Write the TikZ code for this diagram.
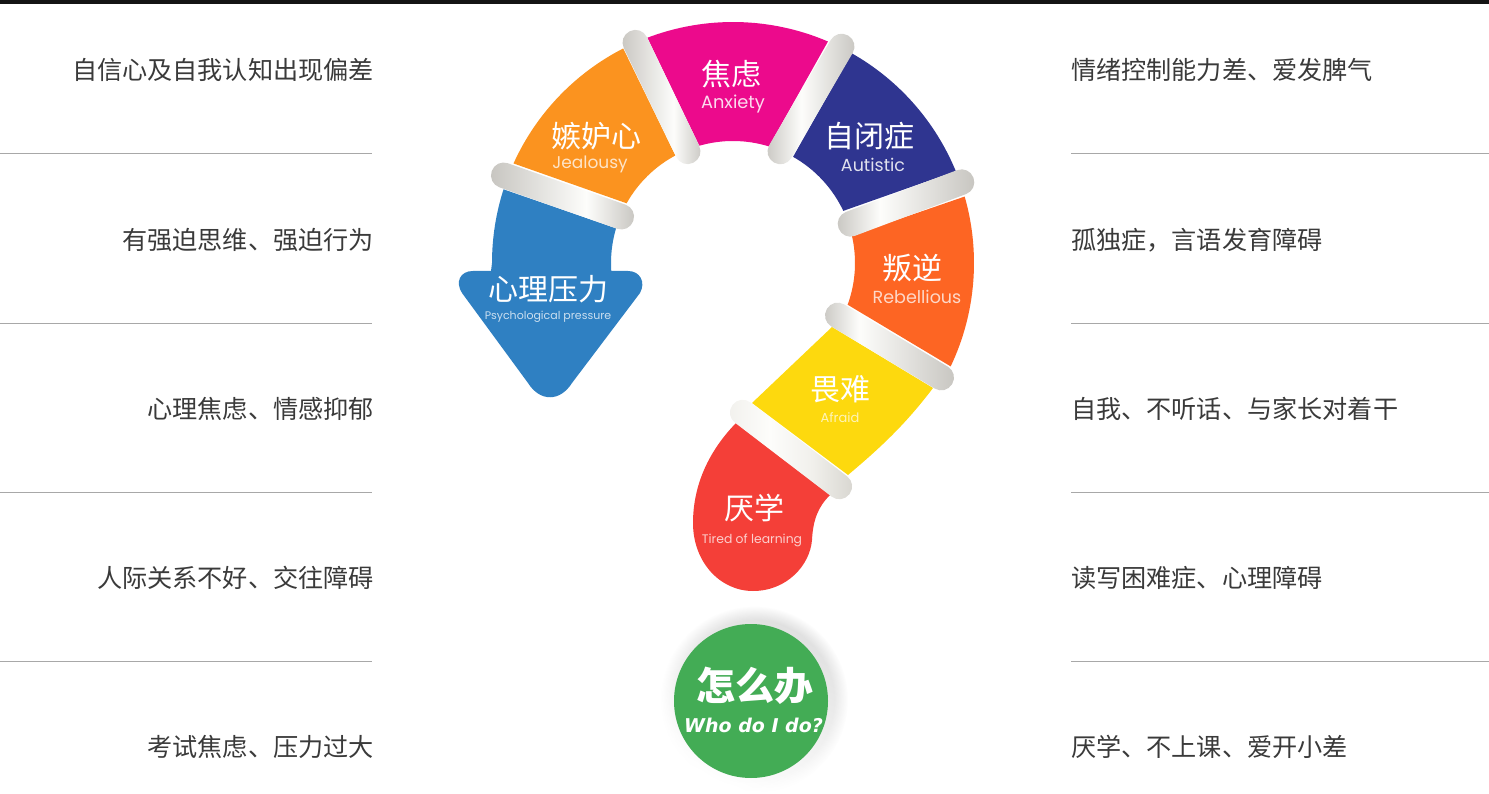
\documentclass[tikz,border=0pt]{standalone}
\usepackage{fontspec}
\setmainfont{Noto Sans CJK SC}
\newfontfamily\latinfont{Poppins}
\newfontfamily\boldlatin{DejaVu Sans}
\usetikzlibrary{calc,fadings}
\definecolor{bgray}{HTML}{C6C4BF}
\definecolor{bwhite}{HTML}{FDFDFB}
\definecolor{cOrange}{HTML}{FB931F}
\definecolor{cMagenta}{HTML}{EC0A8C}
\definecolor{cNavy}{HTML}{2F3590}
\definecolor{cRedOrange}{HTML}{FD6523}
\definecolor{cYellow}{HTML}{FDD90E}
\definecolor{cRed}{HTML}{F43F38}
\definecolor{cBlue}{HTML}{2F80C2}
\definecolor{cGreen}{HTML}{43AC55}
\definecolor{cText}{HTML}{3A3A3A}
\definecolor{cRule}{HTML}{A8A8A8}
\definecolor{bsoft}{HTML}{F1F0EC}
\definecolor{bend}{HTML}{D6D4CE}
\newcommand\bandshade[2]{\pgfdeclarehorizontalshading{#1}{100bp}{color(0bp)=(bgray); color(25bp)=(bgray); color(#2bp)=(bwhite); color(75bp)=(bgray); color(100bp)=(bgray)}}
\bandshade{bandA}{57}
\bandshade{bandB}{58}
\bandshade{bandC}{45}
\bandshade{bandD}{41}
\bandshade{bandE}{39}
\pgfdeclarehorizontalshading{bandF}{100bp}{color(0bp)=(bsoft); color(25bp)=(bsoft); color(42bp)=(bwhite); color(58bp)=(bsoft); color(75bp)=(bend); color(100bp)=(bend)}
\newcommand\segment[5]{\fill[#1] ($(C)+(#2:241pt)$) arc[start angle=#2,end angle=#3,radius=241pt] -- ($(C)+(#5:122pt)$) arc[start angle=#5,end angle=#4,radius=122pt] -- cycle;}
\tikzset{
  x=1pt,y=-1pt,
  band/.style={rectangle,rounded corners=12.5pt,minimum height=25.5pt,inner sep=0pt,shading=#1,shading angle=0},
  sidetext/.style={inner sep=0pt,text=cText,font=\fontsize{25.15pt}{25.15pt}\selectfont},
  cnlabel/.style={inner sep=0pt,text=white,font=\fontsize{30pt}{30pt}\selectfont},
  enlabel/.style={inner sep=0pt,text=white,font=\latinfont\fontsize{#1}{#1}\selectfont},
  rulepen/.style={draw=cRule,line width=1pt}
}
\begin{document}
\begin{tikzpicture}
\useasboundingbox (0,0) rectangle (1489,794);
\fill[black!92] (0,0) rectangle (1489,4);
\coordinate (C) at (733,263);

% separators
\foreach \y in {153.5,323.5,492.5,661}{
  \draw[rulepen] (0,\y) -- (372,\y);
  \draw[rulepen] (1071,\y) -- (1489,\y);
}

% ring segments
\segment{cOrange}{155.6}{117.1}{150.7}{118.2}
\segment{cMagenta}{110.8}{66.8}{106}{72.9}
\segment{cNavy}{60.5}{22.4}{60.5}{25.3}
\segment{cRedOrange}{16}{-25.4}{13.1}{-20}
% yellow
\fill[cYellow] (832,327) -- (933,388) .. controls (905,425) and (880,448) .. (848,475) -- (752,403) -- cycle;
% red
\fill[cRed] (736,423) .. controls (705,455) and (693,490) .. (693,523)
  .. controls (693,562) and (720,591) .. (753,591)
  .. controls (787,591) and (810,565) .. (812,540)
  .. controls (813,520) and (818,507) .. (830,495) -- cycle;
% blue arrow
\fill[cBlue] ($(C)+(162.2:241pt)$) arc[start angle=162.2,end angle=180,radius=241pt]
  -- (491,271) -- (473,271)
  .. controls (460,271) and (455,282) .. (462,293)
  -- (528,383) .. controls (540,402) and (560,402) .. (572,383)
  -- (640,293) .. controls (646,282) and (640,271) .. (628,271)
  -- (611,271) -- ($(C)+(183.7:122pt)$) arc[start angle=183.7,end angle=163.5,radius=122pt] -- cycle;

% bands
\node[band=bandA,minimum width=146pt,rotate=-64.3] (b1) at (661.5,97) {};
\node[band=bandB,minimum width=150pt,rotate=-19.4] (b2) at (562.5,196) {};
\node[band=bandC,minimum width=147pt,rotate=59.7] (b3) at (811,99) {};
\node[band=bandD,minimum width=144pt,rotate=20.6] (b4) at (906,203) {};
\node[band=bandE,minimum width=146pt,rotate=-31] (b5) at (889.5,346.5) {};
\node[band=bandF,minimum width=147pt,rotate=-37.4] (b6) at (791,449.5) {};

% bottom circle
\shade[top color=black!13,bottom color=white,shading angle=-25,path fading=circle with fuzzy edge 15 percent] (754,700) circle[radius=94pt];
\fill[cGreen] (751,701) circle[radius=77pt];

% labels in the shape
\node[cnlabel] (l1) at (731,74) {焦虑};
\node[enlabel=17.8pt,text=white!85!cMagenta] (e1) at (733,104.5) {Anxiety};
\node[cnlabel] (l2) at (596,136) {嫉妒心};
\node[enlabel=17pt,text=white!75!cOrange] (e2) at (590,164.5) {Jealousy};
\node[cnlabel] (l3) at (869,136) {自闭症};
\node[enlabel=17.5pt,text=white!85!cNavy] (e3) at (873,165) {Autistic};
\node[cnlabel] (l4) at (912,268) {叛逆};
\node[enlabel=17.5pt,text=white!75!cRedOrange] (e4) at (917,297) {Rebellious};
\node[cnlabel] (l5) at (840,389) {畏难};
\node[enlabel=13pt,text=white!70!cYellow] (e5) at (840,418) {Afraid};
\node[cnlabel] (l6) at (754,508) {厌学};
\node[enlabel=12.4pt,text=white!75!cRed] (e6) at (752,540) {Tired of learning};
\node[cnlabel] (l7) at (548,289) {心理压力};
\node[enlabel=11pt,text=white!75!cBlue] (e7) at (548,317) {Psychological pressure};
\node[inner sep=0pt,text=white,font=\bfseries\fontsize{39pt}{39pt}\selectfont] (l8) at (755,686) {怎么办};
\node[inner sep=0pt,text=white,font=\boldlatin\bfseries\itshape\fontsize{19pt}{19pt}\selectfont] (e8) at (753.5,725) {Who do I do?};

% side texts
\node[sidetext,anchor=east] (sl1) at (374,70) {自信心及自我认知出现偏差};
\node[sidetext,anchor=east] (sl2) at (374,240) {有强迫思维、强迫行为};
\node[sidetext,anchor=east] (sl3) at (374,409) {心理焦虑、情感抑郁};
\node[sidetext,anchor=east] (sl4) at (374,578) {人际关系不好、交往障碍};
\node[sidetext,anchor=east] (sl5) at (374,747) {考试焦虑、压力过大};
\node[sidetext,anchor=west] (sr1) at (1071,70) {情绪控制能力差、爱发脾气};
\node[sidetext,anchor=west] (sr2) at (1071,240) {孤独症，言语发育障碍};
\node[sidetext,anchor=west] (sr3) at (1071,409) {自我、不听话、与家长对着干};
\node[sidetext,anchor=west] (sr4) at (1071,578) {读写困难症、心理障碍};
\node[sidetext,anchor=west] (sr5) at (1071,747) {厌学、不上课、爱开小差};
\end{tikzpicture}
\end{document}
